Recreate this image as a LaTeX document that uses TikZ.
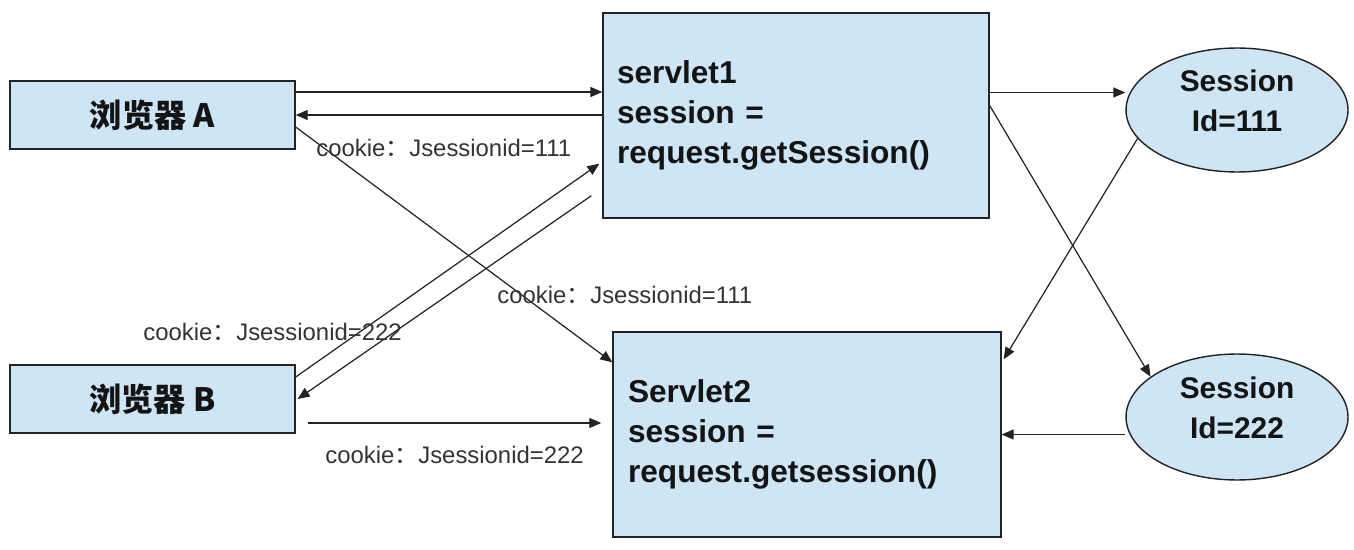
\documentclass[tikz,border=0pt]{standalone}
\usepackage{fontspec}
\setmainfont{Liberation Sans}
\newfontfamily\cjk{Noto Sans CJK SC}
\usetikzlibrary{arrows.meta,shapes.geometric,calc}
\definecolor{boxblue}{RGB}{205,229,245}
\definecolor{edge}{RGB}{35,35,35}
\definecolor{lbl}{RGB}{51,51,51}
\definecolor{txt}{RGB}{20,20,20}
\begin{document}
\begin{tikzpicture}[x=0.02cm,y=-0.02cm,
  browser/.style={draw=edge, line width=0.8pt, fill=boxblue, minimum width=5.7cm,
    minimum height=1.36cm, inner sep=0pt, text=txt,
    font=\cjk\bfseries\fontsize{18.3}{22}\selectfont},
  servlet/.style={draw=edge, line width=0.8pt, fill=boxblue, minimum height=4.1cm,
    text width=7.16cm, align=left, text=txt,
    font=\bfseries\fontsize{18}{22.7}\selectfont},
  session/.style={ellipse, draw=edge, line width=0.8pt, fill=boxblue,
    minimum width=4.44cm, minimum height=2.48cm, inner sep=0pt, align=center, text=txt,
    text depth=0.36cm, font=\bfseries\fontsize{17}{22.7}\selectfont},
  cookie/.style={anchor=west, inner sep=0pt, text=lbl,
    font=\fontsize{13.6}{16}\selectfont},
  arr/.style={-{Triangle[length=0.24cm,width=0.2cm]}, draw=edge, line width=0.7pt}
]
\useasboundingbox (0,0) rectangle (1354,550);

% nodes
\node[browser] (A) at (152.5,115) {浏览器 A};
\node[browser] (B) at (152.5,399) {浏览器 B};
\node[servlet, inner xsep=0.28cm] (S1) at (796,115.5)
  {servlet1\\session =\\request.getSession()};
\node[servlet, inner xsep=0.3cm] (S2) at (807,434.5)
  {Servlet2\\session =\\request.getsession()};
\node[session] (E1) at (1237,110) {Session\\Id=111};
\node[session, minimum height=2.52cm] (E2) at (1237,417) {Session\\Id=222};

% connectors
\draw[arr] ([yshift=0.46cm]A.east) -- ([yshift=0.46cm]A.east -| S1.west);
\draw[arr] (A.east -| S1.west) -- (A.east);
\draw[arr] ([yshift=-0.24cm]A.east) -- ([yshift=-0.62cm]S2.north west);
\draw[arr] ([yshift=0.44cm]B.east) -- ([xshift=-0.06cm,yshift=1.1cm]S1.south west);
\draw[arr] ([xshift=-0.22cm,yshift=0.46cm]S1.south west) -- ([xshift=0.04cm]B.east);
\draw[arr, shorten >=0.22cm] ([xshift=0.24cm,yshift=-0.48cm]B.east) -- ([yshift=-0.48cm]B.east -| S2.west);
\draw[arr] ([yshift=0.46cm]S1.east) -- ([yshift=0.46cm]S1.east -| E1.west);
\draw[arr] ([yshift=0.2cm]S1.east) -- (E2.155);
\draw[arr] (E1.196) -- ([xshift=0.04cm,yshift=-0.56cm]S2.north east);
\draw[arr] (E2.west |- S2.east) -- (S2.east);

% labels
\node[cookie] (c1) at (316,148) {cookie{\cjk ：}Jsessionid=111};
\node[cookie] (c2) at (497,295) {cookie{\cjk ：}Jsessionid=111};
\node[cookie] (c3) at (143,332) {cookie{\cjk ：}Jsessionid=222};
\node[cookie] (c4) at (325,455) {cookie{\cjk ：}Jsessionid=222};
\end{tikzpicture}
\end{document}
